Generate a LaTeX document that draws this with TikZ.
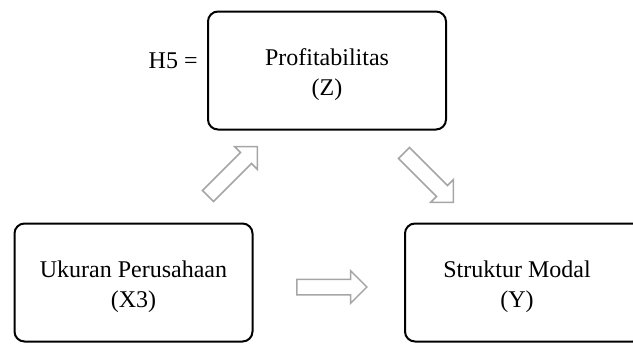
\documentclass[tikz,border=0pt]{standalone}
\usepackage{fontspec}
\setmainfont{Liberation Serif}
\usetikzlibrary{shapes.arrows}
\begin{document}
\begin{tikzpicture}[x=0.5pt,y=-0.5pt,
  lbl/.style={font=\fontsize{12}{15}\selectfont},
  varbox/.style={draw=black, line width=1pt, rounded corners=5pt,
    minimum width=119pt, minimum height=59pt, inner sep=0pt},
  vartext/.style={lbl, align=center, inner sep=0pt},
  blockarrow/.style={single arrow, draw=black!35, line width=0.75pt, fill=white,
    minimum height=35pt, minimum width=0pt, inner xsep=0pt, inner ysep=3.5pt,
    single arrow head extend=4.25pt}]
\useasboundingbox (0,0) rectangle (633,345);

% variable boxes
\node[varbox] (Z) at (327,70.5) {};
\node[varbox] (X3) at (133.5,282.5) {};
\node[varbox] (Y) at (524,282.5) {};

% box texts, set slightly below the box centres
\node[vartext] (Zt) at ([yshift=-2pt]Z.center) {Profitabilitas\\(Z)};
\node[vartext] (X3t) at ([yshift=-2pt]X3.center) {Ukuran Perusahaan\\(X3)};
\node[vartext] (Yt) at ([xshift=-3.5pt,yshift=-2pt]Y.center) {Struktur Modal\\(Y)};

% hypothesis label
\node[lbl, anchor=base east, inner sep=0pt] (h5) at (198,68) {H5 =};

% hollow block arrows
\node[blockarrow, rotate=45] (a1) at (230,174) {};
\node[blockarrow, rotate=-45] (a2) at (426,175) {};
\node[blockarrow] (a3) at (328,287) {};
\end{tikzpicture}
\end{document}
